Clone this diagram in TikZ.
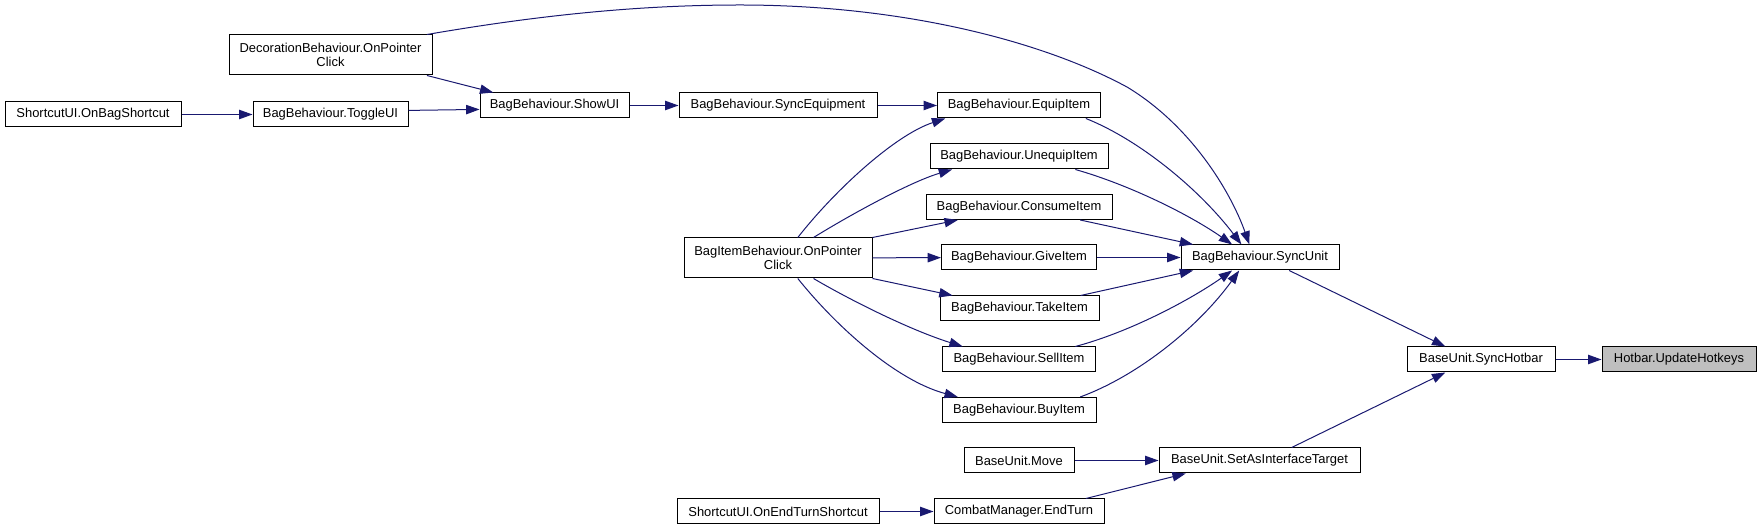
\documentclass[tikz,border=0pt]{standalone}
\usepackage{fontspec}
\setmainfont{Liberation Sans}
\usetikzlibrary{arrows.meta}
\definecolor{edgeblue}{HTML}{191970}
\definecolor{hifill}{HTML}{BFBFBF}
\tikzset{
  box/.style  ={draw=black, fill=white, line width=0.75pt, inner xsep=2pt,
                inner ysep=1pt, minimum height=18.75pt, align=center,
                font=\fontsize{9.7}{10.5}\selectfont},
  % two-line caller
  box2/.style ={box, minimum height=30pt},
  % the function the graph is about
  hibox/.style={box, fill=hifill},
  call/.style ={-{Triangle[length=10pt,width=7pt]}, draw=edgeblue, line width=0.75pt},
}

\begin{document}
\begin{tikzpicture}[x=0.75pt, y=-0.75pt]
    \useasboundingbox (0,0) rectangle (1761,530);
    \node[hibox, minimum width=115.5pt]  (UH)   at (1679,359.5) {Hotbar.UpdateHotkeys};
    \node[box,   minimum width=111pt]    (SH)   at (1481,359.5) {BaseUnit.SyncHotbar};
    \node[box,   minimum width=118.5pt]  (SU)   at (1260,257.5) {BagBehaviour.SyncUnit};
    \node[box,   minimum width=150.75pt] (SAIT) at (1259.5,460.5) {BaseUnit.SetAsInterfaceTarget};
    \node[box,   minimum width=122.25pt] (EI)   at (1019,105.5) {BagBehaviour.EquipItem};
    \node[box,   minimum width=133.5pt]  (UI)   at (1019,156.5) {BagBehaviour.UnequipItem};
    \node[box,   minimum width=139.5pt]  (CI)   at (1019,207)   {BagBehaviour.ConsumeItem};
    \node[box,   minimum width=116.25pt] (GI)   at (1019,257.5) {BagBehaviour.GiveItem};
    \node[box,   minimum width=119.25pt] (TI)   at (1019.5,308.5) {BagBehaviour.TakeItem};
    \node[box,   minimum width=114.75pt] (SI)   at (1019,359.5) {BagBehaviour.SellItem};
    \node[box,   minimum width=115.5pt]  (BI)   at (1019,410)   {BagBehaviour.BuyItem};
    \node[box,   minimum width=82.5pt]   (MV)   at (1019,460.5) {BaseUnit.Move};
    \node[box,   minimum width=127.5pt]  (CM)   at (1019,511.5) {CombatManager.EndTurn};
    \node[box,   minimum width=148.5pt]  (SE)   at (778,105.5)  {BagBehaviour.SyncEquipment};
    \node[box2,  minimum width=141pt]    (BIB)  at (778,258)    {BagItemBehaviour.OnPointer\\Click};
    \node[box,   minimum width=151.5pt]  (OET)  at (778,511.5)  {ShortcutUI.OnEndTurnShortcut};
    \node[box,   minimum width=111.75pt] (SHW)  at (554.5,105.5) {BagBehaviour.ShowUI};
    \node[box2,  minimum width=152.25pt] (DEC)  at (330.5,55)   {DecorationBehaviour.OnPointer\\Click};
    \node[box,   minimum width=116.25pt] (TUI)  at (330.5,114.5) {BagBehaviour.ToggleUI};
    \node[box,   minimum width=132pt]    (OBS)  at (93,114.5)   {ShortcutUI.OnBagShortcut};

    % callers of the hotbar
    \draw[call] (SH) -- (UH);
    \draw[call] (SU.-24) -- (SH.160);
    \draw[call] (SAIT.22) -- (SH.200);
    % callers of SyncUnit
    \draw[call] (EI.-11) .. controls (1140,140) and (1200,190) .. (SU.145);
    \draw[call] (UI.-13) .. controls (1130,185) and (1190,215) .. (SU.155);
    \draw[call] (CI.-12) -- (SU.169);
    \draw[call] (GI) -- (SU);
    \draw[call] (TI.12) -- (SU.191);
    \draw[call] (SI.13) .. controls (1130,332) and (1190,300) .. (SU.205);
    \draw[call] (BI.12) .. controls (1140,375) and (1200,325) .. (SU.212);
    \draw[call] (DEC.12) .. controls (540,15) and (640,5) .. (740,5)
                .. controls (900,5) and (1040,40) .. (1127,87)
                .. controls (1190,125) and (1230,190) .. (SU.129);
    % item clicks
    \draw[call] (BIB.46) .. controls (835,190) and (895,135) .. (EI.190);
    \draw[call] (BIB.30) .. controls (850,215) and (910,182) .. (UI.191);
    \draw[call] (BIB.north east) -- (CI.192);
    \draw[call] (BIB) -- (GI);
    \draw[call] (BIB.south east) -- (TI.169);
    \draw[call] (BIB.-30) .. controls (850,300) and (910,330) .. (SI.167);
    \draw[call] (BIB.-46) .. controls (835,325) and (895,380) .. (BI.168);
    % bag ui chain
    \draw[call] (SE) -- (EI);
    \draw[call] (SHW) -- (SE);
    \draw[call] (TUI.3) -- (SHW.183);
    \draw[call] (DEC.-12.5) -- (SHW.168);
    \draw[call] (OBS) -- (TUI);
    % interface target
    \draw[call] (MV) -- (SAIT);
    \draw[call] (CM.11) -- (SAIT.190);
    \draw[call] (OET) -- (CM);
\end{tikzpicture}
\end{document}
